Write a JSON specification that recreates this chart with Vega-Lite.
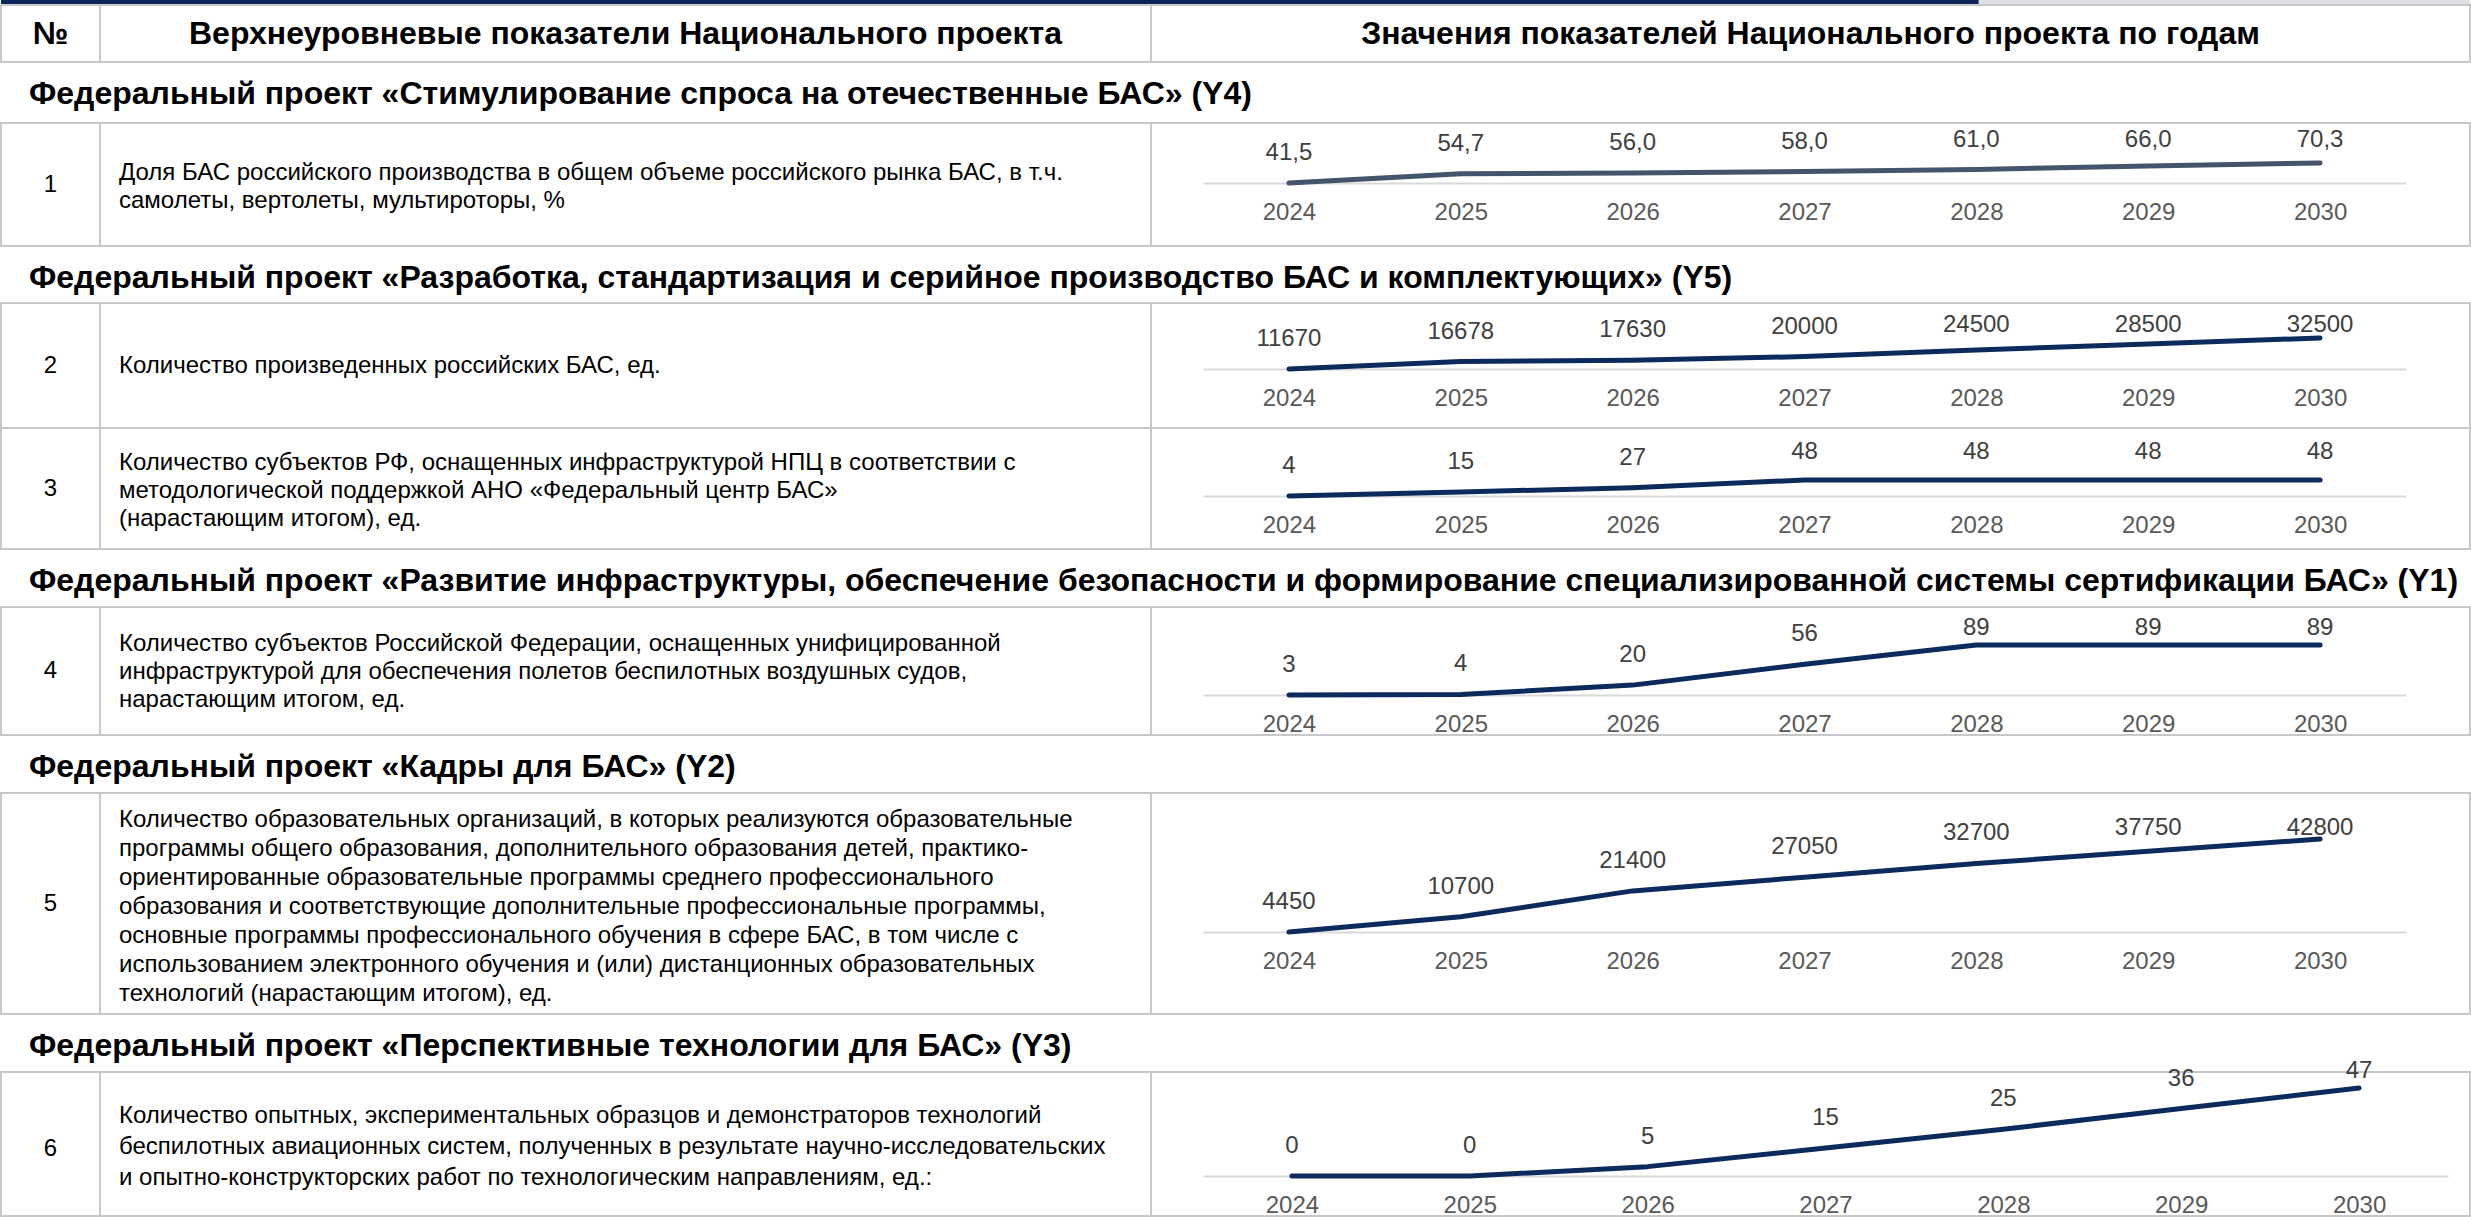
{
  "$schema": "https://vega.github.io/schema/vega-lite/v6.json",
  "background": "white",
  "padding": 0,
  "columns": 3,
  "spacing": 0,
  "bounds": "flush",
  "config": {
    "font": "Liberation Sans",
    "view": {"stroke": "#c8c8c8", "strokeWidth": 2},
    "concat": {"spacing": 0}
  },
  "datasets": {
    "cells": [
      {"key": "h0", "text": "№"},
      {"key": "h1", "text": "Верхнеуровневые показатели Национального проекта"},
      {"key": "h2", "text": "Значения показателей Национального проекта по годам"},
      {"key": "s1", "text": "Федеральный проект «Стимулирование спроса на отечественные БАС» (Y4)"},
      {"key": "s2", "text": "Федеральный проект «Разработка, стандартизация и серийное производство БАС и комплектующих» (Y5)"},
      {"key": "s3", "text": "Федеральный проект «Развитие инфраструктуры, обеспечение безопасности и формирование специализированной системы сертификации БАС» (Y1)"},
      {"key": "s4", "text": "Федеральный проект «Кадры для БАС» (Y2)"},
      {"key": "s5", "text": "Федеральный проект «Перспективные технологии для БАС» (Y3)"},
      {"key": "n1", "text": "1"},
      {"key": "n2", "text": "2"},
      {"key": "n3", "text": "3"},
      {"key": "n4", "text": "4"},
      {"key": "n5", "text": "5"},
      {"key": "n6", "text": "6"},
      {"key": "d1", "text": "Доля БАС российского производства в общем объеме российского рынка БАС, в т.ч.\nсамолеты, вертолеты, мультироторы, %"},
      {"key": "d2", "text": "Количество произведенных российских БАС, ед."},
      {"key": "d3", "text": "Количество субъектов РФ, оснащенных инфраструктурой НПЦ в соответствии с\nметодологической поддержкой АНО «Федеральный центр БАС»\n(нарастающим итогом), ед."},
      {"key": "d4", "text": "Количество субъектов Российской Федерации, оснащенных унифицированной\nинфраструктурой для обеспечения полетов беспилотных воздушных судов,\nнарастающим итогом, ед."},
      {"key": "d5", "text": "Количество образовательных организаций, в которых реализуются образовательные\nпрограммы общего образования, дополнительного образования детей, практико-\nориентированные образовательные программы среднего профессионального\nобразования и соответствующие дополнительные профессиональные программы,\nосновные программы профессионального обучения в сфере БАС, в том числе с\nиспользованием электронного обучения и (или) дистанционных образовательных\nтехнологий (нарастающим итогом), ед."},
      {"key": "d6", "text": "Количество опытных, экспериментальных образцов и демонстраторов технологий\nбеспилотных авиационных систем, полученных в результате научно-исследовательских\nи опытно-конструкторских работ по технологическим направлениям, ед.:"}
    ],
    "series": [
      {"row": 1, "year": "2024", "v": 41.5, "label": "41,5"},
      {"row": 1, "year": "2025", "v": 54.7, "label": "54,7"},
      {"row": 1, "year": "2026", "v": 56.0, "label": "56,0"},
      {"row": 1, "year": "2027", "v": 58.0, "label": "58,0"},
      {"row": 1, "year": "2028", "v": 61.0, "label": "61,0"},
      {"row": 1, "year": "2029", "v": 66.0, "label": "66,0"},
      {"row": 1, "year": "2030", "v": 70.3, "label": "70,3"},
      {"row": 2, "year": "2024", "v": 11670, "label": "11670"},
      {"row": 2, "year": "2025", "v": 16678, "label": "16678"},
      {"row": 2, "year": "2026", "v": 17630, "label": "17630"},
      {"row": 2, "year": "2027", "v": 20000, "label": "20000"},
      {"row": 2, "year": "2028", "v": 24500, "label": "24500"},
      {"row": 2, "year": "2029", "v": 28500, "label": "28500"},
      {"row": 2, "year": "2030", "v": 32500, "label": "32500"},
      {"row": 3, "year": "2024", "v": 4, "label": "4"},
      {"row": 3, "year": "2025", "v": 15, "label": "15"},
      {"row": 3, "year": "2026", "v": 27, "label": "27"},
      {"row": 3, "year": "2027", "v": 48, "label": "48"},
      {"row": 3, "year": "2028", "v": 48, "label": "48"},
      {"row": 3, "year": "2029", "v": 48, "label": "48"},
      {"row": 3, "year": "2030", "v": 48, "label": "48"},
      {"row": 4, "year": "2024", "v": 3, "label": "3"},
      {"row": 4, "year": "2025", "v": 4, "label": "4"},
      {"row": 4, "year": "2026", "v": 20, "label": "20"},
      {"row": 4, "year": "2027", "v": 56, "label": "56"},
      {"row": 4, "year": "2028", "v": 89, "label": "89"},
      {"row": 4, "year": "2029", "v": 89, "label": "89"},
      {"row": 4, "year": "2030", "v": 89, "label": "89"},
      {"row": 5, "year": "2024", "v": 4450, "label": "4450"},
      {"row": 5, "year": "2025", "v": 10700, "label": "10700"},
      {"row": 5, "year": "2026", "v": 21400, "label": "21400"},
      {"row": 5, "year": "2027", "v": 27050, "label": "27050"},
      {"row": 5, "year": "2028", "v": 32700, "label": "32700"},
      {"row": 5, "year": "2029", "v": 37750, "label": "37750"},
      {"row": 5, "year": "2030", "v": 42800, "label": "42800"},
      {"row": 6, "year": "2024", "v": 0, "label": "0"},
      {"row": 6, "year": "2025", "v": 0, "label": "0"},
      {"row": 6, "year": "2026", "v": 5, "label": "5"},
      {"row": 6, "year": "2027", "v": 15, "label": "15"},
      {"row": 6, "year": "2028", "v": 25, "label": "25"},
      {"row": 6, "year": "2029", "v": 36, "label": "36"},
      {"row": 6, "year": "2030", "v": 47, "label": "47"}
    ]
  },
  "concat": [
    {"width": 99, "height": 5, "view": {"fill": "#0b2559", "stroke": null}, "data": {"name": "cells"}, "transform": [{"filter": "datum.key == 'none'"}], "mark": "text", "encoding": {"text": {"field": "text"}}},
    {"width": 1051, "height": 5, "view": {"fill": "#0b2559", "stroke": null}, "data": {"name": "cells"}, "transform": [{"filter": "datum.key == 'none'"}], "mark": "text", "encoding": {"text": {"field": "text"}}},
    {"width": 1319, "height": 5, "view": {"fill": {"gradient": "linear", "x1": 0, "x2": 1, "y1": 0, "y2": 0, "stops": [{"offset": 0, "color": "#0b2559"}, {"offset": 0.627, "color": "#0b2559"}, {"offset": 0.628, "color": "#dde0e6"}, {"offset": 1, "color": "#dde0e6"}]}, "stroke": null}, "data": {"name": "cells"}, "transform": [{"filter": "datum.key == 'none'"}], "mark": "text", "encoding": {"text": {"field": "text"}}},

    {"width": 99, "height": 57, "view": {"stroke": "#c8c8c8", "strokeWidth": 2}, "data": {"name": "cells"}, "transform": [{"filter": "datum.key == 'h0'"}], "mark": {"type": "text", "fontSize": 32, "fontWeight": "bold", "color": "#000000", "baseline": "middle"}, "encoding": {"text": {"field": "text"}}},
    {"width": 1051, "height": 57, "view": {"stroke": "#c8c8c8", "strokeWidth": 2}, "data": {"name": "cells"}, "transform": [{"filter": "datum.key == 'h1'"}], "mark": {"type": "text", "fontSize": 32, "fontWeight": "bold", "color": "#000000", "baseline": "middle"}, "encoding": {"text": {"field": "text"}}},
    {"width": 1319, "height": 57, "view": {"stroke": "#c8c8c8", "strokeWidth": 2}, "data": {"name": "cells"}, "transform": [{"filter": "datum.key == 'h2'"}], "mark": {"type": "text", "fontSize": 32, "fontWeight": "bold", "color": "#000000", "baseline": "middle"}, "encoding": {"text": {"field": "text"}}},

    {"width": 99, "height": 61, "view": {"stroke": null}, "data": {"name": "cells"}, "transform": [{"filter": "datum.key == 's1'"}], "mark": {"type": "text", "fontSize": 32, "fontWeight": "bold", "color": "#000000", "align": "left", "baseline": "middle", "dx": -21.5, "dy": 1, "limit": 2430}, "encoding": {"text": {"field": "text"}}},
    {"width": 1051, "height": 61, "view": {"stroke": null}, "data": {"name": "cells"}, "transform": [{"filter": "datum.key == 'none'"}], "mark": "text", "encoding": {"text": {"field": "text"}}},
    {"width": 1319, "height": 61, "view": {"stroke": null}, "data": {"name": "cells"}, "transform": [{"filter": "datum.key == 'none'"}], "mark": "text", "encoding": {"text": {"field": "text"}}},

    {"width": 99, "height": 123, "view": {"stroke": "#c8c8c8", "strokeWidth": 2}, "data": {"name": "cells"}, "transform": [{"filter": "datum.key == 'n1'"}], "mark": {"type": "text", "fontSize": 24, "color": "#000000", "baseline": "middle"}, "encoding": {"text": {"field": "text"}}},
    {"width": 1051, "height": 123, "view": {"stroke": "#c8c8c8", "strokeWidth": 2}, "data": {"name": "cells"}, "transform": [{"filter": "datum.key == 'd1'"}], "mark": {"type": "text", "fontSize": 24, "lineHeight": 28, "lineBreak": "\n", "color": "#000000", "align": "left", "baseline": "middle", "dx": -506.5, "dy": -12}, "encoding": {"text": {"field": "text"}}},
    {
      "width": 1319, "height": 123,
      "data": {"name": "series"}, "transform": [{"filter": "datum.row == 1"}],
      "layer": [
        {"mark": {"type": "line", "color": "#44546a", "strokeWidth": 5, "strokeCap": "round", "strokeJoin": "round"},
         "encoding": {
           "x": {"field": "year", "type": "ordinal", "scale": {"type": "point", "range": [52, 1255], "padding": 0.5}, "axis": {"title": null, "offset": -63, "domainColor": "#d9d9d9", "domainWidth": 2, "ticks": false, "tickSize": 0, "labelPadding": 29, "labelBaseline": "middle", "labelAngle": 0, "labelFontSize": 24, "labelColor": "#595959", "labelFont": "Liberation Sans", "grid": false}},
           "y": {"field": "v", "type": "quantitative", "scale": {"domain": [41.5, 70.3], "range": [60, 40], "nice": false, "zero": false}, "axis": null}}},
        {"mark": {"type": "text", "fontSize": 24, "color": "#404040", "baseline": "middle"},
         "encoding": {
           "x": {"field": "year", "type": "ordinal"},
           "y": {"field": "v", "type": "quantitative", "scale": {"domain": [41.5, 60.2], "range": [30, 17], "clamp": true, "nice": false, "zero": false}, "axis": null},
           "text": {"field": "label"}}}
      ],
      "resolve": {"scale": {"y": "independent"}}
    },

    {"width": 99, "height": 57, "view": {"stroke": null}, "data": {"name": "cells"}, "transform": [{"filter": "datum.key == 's2'"}], "mark": {"type": "text", "fontSize": 32, "fontWeight": "bold", "color": "#000000", "align": "left", "baseline": "middle", "dx": -21.5, "dy": 3, "limit": 2430}, "encoding": {"text": {"field": "text"}}},
    {"width": 1051, "height": 57, "view": {"stroke": null}, "data": {"name": "cells"}, "transform": [{"filter": "datum.key == 'none'"}], "mark": "text", "encoding": {"text": {"field": "text"}}},
    {"width": 1319, "height": 57, "view": {"stroke": null}, "data": {"name": "cells"}, "transform": [{"filter": "datum.key == 'none'"}], "mark": "text", "encoding": {"text": {"field": "text"}}},

    {"width": 99, "height": 125, "view": {"stroke": "#c8c8c8", "strokeWidth": 2}, "data": {"name": "cells"}, "transform": [{"filter": "datum.key == 'n2'"}], "mark": {"type": "text", "fontSize": 24, "color": "#000000", "baseline": "middle"}, "encoding": {"text": {"field": "text"}}},
    {"width": 1051, "height": 125, "view": {"stroke": "#c8c8c8", "strokeWidth": 2}, "data": {"name": "cells"}, "transform": [{"filter": "datum.key == 'd2'"}], "mark": {"type": "text", "fontSize": 24, "lineHeight": 28, "lineBreak": "\n", "color": "#000000", "align": "left", "baseline": "middle", "dx": -506.5}, "encoding": {"text": {"field": "text"}}},
    {
      "width": 1319, "height": 125,
      "data": {"name": "series"}, "transform": [{"filter": "datum.row == 2"}],
      "layer": [
        {"mark": {"type": "line", "color": "#0c2a5c", "strokeWidth": 5, "strokeCap": "round", "strokeJoin": "round"},
         "encoding": {
           "x": {"field": "year", "type": "ordinal", "scale": {"type": "point", "range": [52, 1255], "padding": 0.5}, "axis": {"title": null, "offset": -59, "domainColor": "#d9d9d9", "domainWidth": 2, "ticks": false, "tickSize": 0, "labelPadding": 29, "labelBaseline": "middle", "labelAngle": 0, "labelFontSize": 24, "labelColor": "#595959", "labelFont": "Liberation Sans", "grid": false}},
           "y": {"field": "v", "type": "quantitative", "scale": {"domain": [11670, 32500], "range": [66, 35], "nice": false, "zero": false}, "axis": null}}},
        {"mark": {"type": "text", "fontSize": 24, "color": "#404040", "baseline": "middle"},
         "encoding": {
           "x": {"field": "year", "type": "ordinal"},
           "y": {"field": "v", "type": "quantitative", "scale": {"domain": [11670, 21077], "range": [36, 22], "clamp": true, "nice": false, "zero": false}, "axis": null},
           "text": {"field": "label"}}}
      ],
      "resolve": {"scale": {"y": "independent"}}
    },

    {"width": 99, "height": 121, "view": {"stroke": "#c8c8c8", "strokeWidth": 2}, "data": {"name": "cells"}, "transform": [{"filter": "datum.key == 'n3'"}], "mark": {"type": "text", "fontSize": 24, "color": "#000000", "baseline": "middle"}, "encoding": {"text": {"field": "text"}}},
    {"width": 1051, "height": 121, "view": {"stroke": "#c8c8c8", "strokeWidth": 2}, "data": {"name": "cells"}, "transform": [{"filter": "datum.key == 'd3'"}], "mark": {"type": "text", "fontSize": 24, "lineHeight": 28, "lineBreak": "\n", "color": "#000000", "align": "left", "baseline": "middle", "dx": -506.5, "dy": -26}, "encoding": {"text": {"field": "text"}}},
    {
      "width": 1319, "height": 121,
      "data": {"name": "series"}, "transform": [{"filter": "datum.row == 3"}],
      "layer": [
        {"mark": {"type": "line", "color": "#0c2a5c", "strokeWidth": 5, "strokeCap": "round", "strokeJoin": "round"},
         "encoding": {
           "x": {"field": "year", "type": "ordinal", "scale": {"type": "point", "range": [52, 1255], "padding": 0.5}, "axis": {"title": null, "offset": -53, "domainColor": "#d9d9d9", "domainWidth": 2, "ticks": false, "tickSize": 0, "labelPadding": 29, "labelBaseline": "middle", "labelAngle": 0, "labelFontSize": 24, "labelColor": "#595959", "labelFont": "Liberation Sans", "grid": false}},
           "y": {"field": "v", "type": "quantitative", "scale": {"domain": [4, 48], "range": [68, 52], "nice": false, "zero": false}, "axis": null}}},
        {"mark": {"type": "text", "fontSize": 24, "color": "#404040", "baseline": "middle"},
         "encoding": {
           "x": {"field": "year", "type": "ordinal"},
           "y": {"field": "v", "type": "quantitative", "scale": {"domain": [4, 42.5], "range": [38, 24], "clamp": true, "nice": false, "zero": false}, "axis": null},
           "text": {"field": "label"}}}
      ],
      "resolve": {"scale": {"y": "independent"}}
    },

    {"width": 99, "height": 58, "view": {"stroke": null}, "data": {"name": "cells"}, "transform": [{"filter": "datum.key == 's3'"}], "mark": {"type": "text", "fontSize": 32, "fontWeight": "bold", "color": "#000000", "align": "left", "baseline": "middle", "dx": -21.5, "dy": 3, "limit": 2430}, "encoding": {"text": {"field": "text"}}},
    {"width": 1051, "height": 58, "view": {"stroke": null}, "data": {"name": "cells"}, "transform": [{"filter": "datum.key == 'none'"}], "mark": "text", "encoding": {"text": {"field": "text"}}},
    {"width": 1319, "height": 58, "view": {"stroke": null}, "data": {"name": "cells"}, "transform": [{"filter": "datum.key == 'none'"}], "mark": "text", "encoding": {"text": {"field": "text"}}},

    {"width": 99, "height": 128, "view": {"stroke": "#c8c8c8", "strokeWidth": 2}, "data": {"name": "cells"}, "transform": [{"filter": "datum.key == 'n4'"}], "mark": {"type": "text", "fontSize": 24, "color": "#000000", "baseline": "middle"}, "encoding": {"text": {"field": "text"}}},
    {"width": 1051, "height": 128, "view": {"stroke": "#c8c8c8", "strokeWidth": 2}, "data": {"name": "cells"}, "transform": [{"filter": "datum.key == 'd4'"}], "mark": {"type": "text", "fontSize": 24, "lineHeight": 28, "lineBreak": "\n", "color": "#000000", "align": "left", "baseline": "middle", "dx": -506.5, "dy": -27}, "encoding": {"text": {"field": "text"}}},
    {
      "width": 1319, "height": 128,
      "data": {"name": "series"}, "transform": [{"filter": "datum.row == 4"}],
      "layer": [
        {"mark": {"type": "line", "color": "#0c2a5c", "strokeWidth": 5, "strokeCap": "round", "strokeJoin": "round"},
         "encoding": {
           "x": {"field": "year", "type": "ordinal", "scale": {"type": "point", "range": [52, 1255], "padding": 0.5}, "axis": {"title": null, "offset": -40, "domainColor": "#d9d9d9", "domainWidth": 2, "ticks": false, "tickSize": 0, "labelPadding": 29, "labelBaseline": "middle", "labelAngle": 0, "labelFontSize": 24, "labelColor": "#595959", "labelFont": "Liberation Sans", "grid": false}},
           "y": {"field": "v", "type": "quantitative", "scale": {"domain": [3, 89], "range": [88, 38], "nice": false, "zero": false}, "axis": null}}},
        {"mark": {"type": "text", "fontSize": 24, "color": "#404040", "baseline": "middle"},
         "encoding": {
           "x": {"field": "year", "type": "ordinal"},
           "y": {"field": "v", "type": "quantitative", "scale": {"domain": [3, 66.6], "range": [58, 21], "clamp": true, "nice": false, "zero": false}, "axis": null},
           "text": {"field": "label"}}}
      ],
      "resolve": {"scale": {"y": "independent"}}
    },

    {"width": 99, "height": 58, "view": {"stroke": null}, "data": {"name": "cells"}, "transform": [{"filter": "datum.key == 's4'"}], "mark": {"type": "text", "fontSize": 32, "fontWeight": "bold", "color": "#000000", "align": "left", "baseline": "middle", "dx": -21.5, "dy": 3, "limit": 2430}, "encoding": {"text": {"field": "text"}}},
    {"width": 1051, "height": 58, "view": {"stroke": null}, "data": {"name": "cells"}, "transform": [{"filter": "datum.key == 'none'"}], "mark": "text", "encoding": {"text": {"field": "text"}}},
    {"width": 1319, "height": 58, "view": {"stroke": null}, "data": {"name": "cells"}, "transform": [{"filter": "datum.key == 'none'"}], "mark": "text", "encoding": {"text": {"field": "text"}}},

    {"width": 99, "height": 221, "view": {"stroke": "#c8c8c8", "strokeWidth": 2}, "data": {"name": "cells"}, "transform": [{"filter": "datum.key == 'n5'"}], "mark": {"type": "text", "fontSize": 24, "color": "#000000", "baseline": "middle"}, "encoding": {"text": {"field": "text"}}},
    {"width": 1051, "height": 221, "view": {"stroke": "#c8c8c8", "strokeWidth": 2}, "data": {"name": "cells"}, "transform": [{"filter": "datum.key == 'd5'"}], "mark": {"type": "text", "fontSize": 24, "lineHeight": 29, "lineBreak": "\n", "color": "#000000", "align": "left", "baseline": "middle", "dx": -506.5, "dy": -84}, "encoding": {"text": {"field": "text"}}},
    {
      "width": 1319, "height": 221,
      "data": {"name": "series"}, "transform": [{"filter": "datum.row == 5"}],
      "layer": [
        {"mark": {"type": "line", "color": "#0c2a5c", "strokeWidth": 5, "strokeCap": "round", "strokeJoin": "round"},
         "encoding": {
           "x": {"field": "year", "type": "ordinal", "scale": {"type": "point", "range": [52, 1255], "padding": 0.5}, "axis": {"title": null, "offset": -82, "domainColor": "#d9d9d9", "domainWidth": 2, "ticks": false, "tickSize": 0, "labelPadding": 29, "labelBaseline": "middle", "labelAngle": 0, "labelFontSize": 24, "labelColor": "#595959", "labelFont": "Liberation Sans", "grid": false}},
           "y": {"field": "v", "type": "quantitative", "scale": {"domain": [4450, 42800], "range": [139, 46], "nice": false, "zero": false}, "axis": null}}},
        {"mark": {"type": "text", "fontSize": 24, "color": "#404040", "baseline": "middle"},
         "encoding": {
           "x": {"field": "year", "type": "ordinal"},
           "y": {"field": "v", "type": "quantitative", "scale": {"domain": [4450, 34968], "range": [109, 35], "clamp": true, "nice": false, "zero": false}, "axis": null},
           "text": {"field": "label"}}}
      ],
      "resolve": {"scale": {"y": "independent"}}
    },

    {"width": 99, "height": 58, "view": {"stroke": null}, "data": {"name": "cells"}, "transform": [{"filter": "datum.key == 's5'"}], "mark": {"type": "text", "fontSize": 32, "fontWeight": "bold", "color": "#000000", "align": "left", "baseline": "middle", "dx": -21.5, "dy": 3, "limit": 2430}, "encoding": {"text": {"field": "text"}}},
    {"width": 1051, "height": 58, "view": {"stroke": null}, "data": {"name": "cells"}, "transform": [{"filter": "datum.key == 'none'"}], "mark": "text", "encoding": {"text": {"field": "text"}}},
    {"width": 1319, "height": 58, "view": {"stroke": null}, "data": {"name": "cells"}, "transform": [{"filter": "datum.key == 'none'"}], "mark": "text", "encoding": {"text": {"field": "text"}}},

    {"width": 99, "height": 144, "view": {"stroke": "#c8c8c8", "strokeWidth": 2}, "data": {"name": "cells"}, "transform": [{"filter": "datum.key == 'n6'"}], "mark": {"type": "text", "fontSize": 24, "color": "#000000", "baseline": "middle", "dy": 5}, "encoding": {"text": {"field": "text"}}},
    {"width": 1051, "height": 144, "view": {"stroke": "#c8c8c8", "strokeWidth": 2}, "data": {"name": "cells"}, "transform": [{"filter": "datum.key == 'd6'"}], "mark": {"type": "text", "fontSize": 24, "lineHeight": 31, "lineBreak": "\n", "color": "#000000", "align": "left", "baseline": "middle", "dx": -506.5, "dy": -28}, "encoding": {"text": {"field": "text"}}},
    {
      "width": 1319, "height": 144,
      "data": {"name": "series"}, "transform": [{"filter": "datum.row == 6"}],
      "layer": [
        {"mark": {"type": "line", "color": "#0c2a5c", "strokeWidth": 5, "strokeCap": "round", "strokeJoin": "round"},
         "encoding": {
           "x": {"field": "year", "type": "ordinal", "scale": {"type": "point", "range": [52, 1297], "padding": 0.5}, "axis": {"title": null, "offset": -40, "domainColor": "#d9d9d9", "domainWidth": 2, "ticks": false, "tickSize": 0, "labelPadding": 29, "labelBaseline": "middle", "labelAngle": 0, "labelFontSize": 24, "labelColor": "#595959", "labelFont": "Liberation Sans", "grid": false}},
           "y": {"field": "v", "type": "quantitative", "scale": {"domain": [0, 47], "range": [104, 16], "nice": false, "zero": false}, "axis": null}}},
        {"mark": {"type": "text", "fontSize": 24, "color": "#404040", "baseline": "middle"},
         "encoding": {
           "x": {"field": "year", "type": "ordinal"},
           "y": {"field": "v", "type": "quantitative", "scale": {"domain": [0, 40.06], "range": [74, -1], "clamp": true, "nice": false, "zero": false}, "axis": null},
           "text": {"field": "label"}}}
      ],
      "resolve": {"scale": {"y": "independent"}}
    }
  ]
}
